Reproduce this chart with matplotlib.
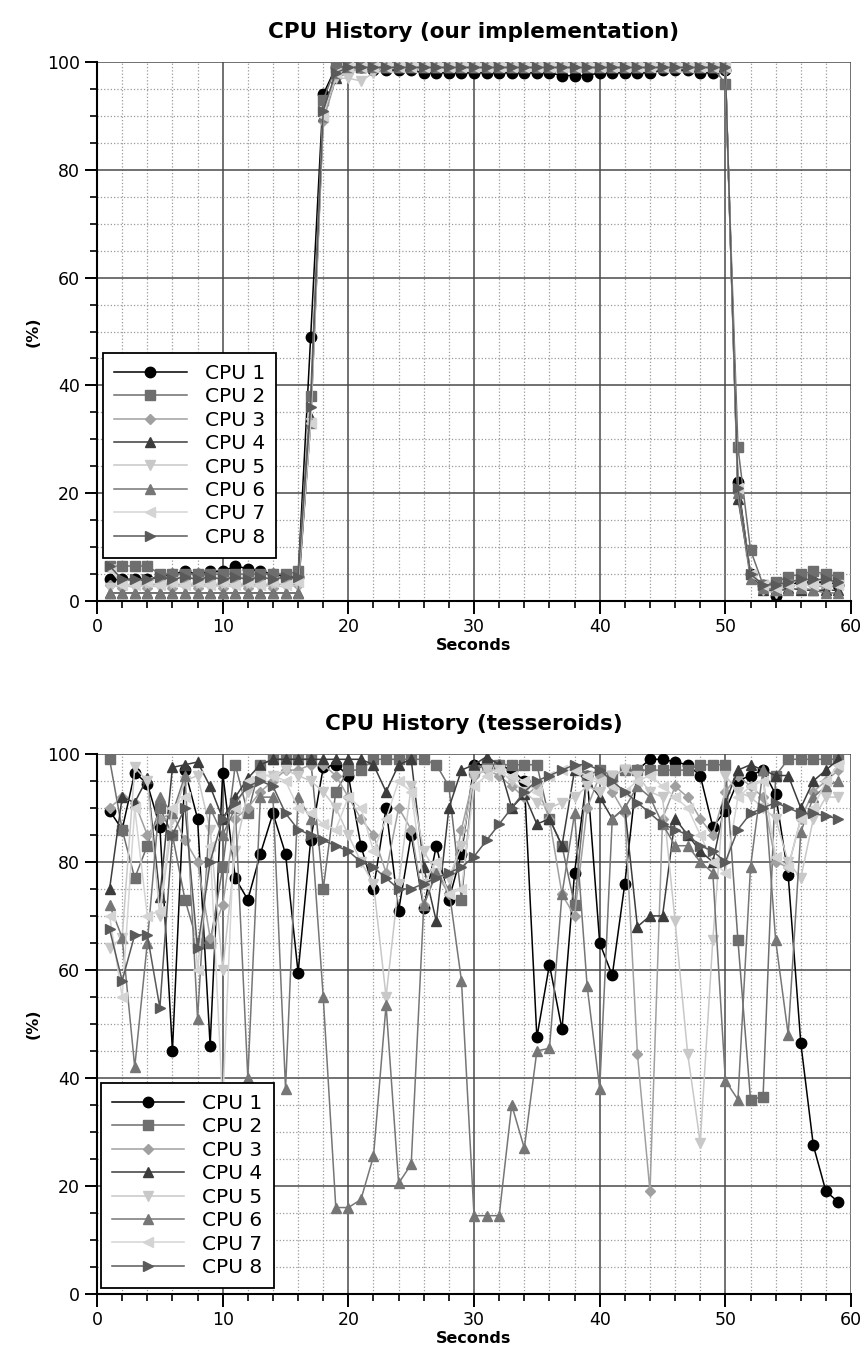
import matplotlib
matplotlib.use("Agg")
import matplotlib.pyplot as plt
from matplotlib.ticker import MultipleLocator

seconds = list(range(1, 60))
labels = ["CPU 1", "CPU 2", "CPU 3", "CPU 4", "CPU 5", "CPU 6", "CPU 7", "CPU 8"]
titles = ["CPU History (our implementation)", "CPU History (tesseroids)"]

# ---- top chart: our implementation ----
ours_cpu1 = [4, 4, 4, 4, 4.5, 5, 5.5, 5, 5.5, 5.5,
             6.5, 6, 5.5, 5, 4.5, 4.5, 49, 94, 99, 99,
             99, 98.5, 98.5, 98.5, 98.5, 98, 98, 98, 98, 98,
             98, 98, 98, 98, 98, 98, 97.5, 97.5, 97.5, 98,
             98, 98, 98, 98, 98.5, 98.5, 98.5, 98, 98, 98.5,
             22, 5, 3, 1, 3, 3.5, 3.5, 3.5, 3]
ours_cpu2 = [6.5, 6.5, 6.5, 6.5, 5, 5, 5, 5, 5, 5,
             5, 5, 5, 5, 5, 5.5, 38, 93, 99, 99,
             99, 99, 99, 99, 99, 99, 99, 99, 99, 99,
             99, 99, 99, 99, 99, 99, 99, 99, 99, 99,
             99, 99, 99, 99, 99, 99, 99, 99, 99, 96,
             28.5, 9.5, 3, 3.5, 4.5, 5, 5.5, 5, 4.5]
ours_cpu3 = [3, 2.5, 3.5, 2.5, 3.5, 2.5, 3.5, 2.5, 3.5, 2.5,
             3.5, 2.5, 3.5, 2.5, 3.5, 3, 33, 89, 97, 98,
             99, 99, 99, 99, 99, 99, 99, 99, 99, 99,
             99, 99, 99, 99, 99, 99, 99, 99, 99, 99,
             99, 99, 99, 99, 99, 99, 99, 99, 99, 98.5,
             20, 5, 2, 2.5, 3, 3, 3, 2.5, 3]
ours_cpu4 = [1.5, 1.5, 1.5, 1.5, 1.5, 1.5, 1.5, 1.5, 1.5, 1.5,
             1.5, 1.5, 1.5, 1.5, 1.5, 1.5, 34, 90, 97, 99,
             99, 99, 99, 99, 99, 99, 99, 99, 99, 99,
             99, 99, 99, 99, 99, 99, 99, 99, 99, 99,
             99, 99, 99, 99, 99, 99, 99, 99, 99, 99,
             19, 5, 2, 2, 2.5, 2, 2, 2, 2]
ours_cpu5 = [2.5, 3, 2.5, 3, 2.5, 3, 2.5, 3, 2.5, 3,
             2.5, 3, 2.5, 3, 2.5, 3, 33, 90, 97, 97,
             96.5, 98, 99, 99, 99, 99, 99, 99, 99, 99,
             99, 99, 99, 99, 99, 99, 99, 99, 99, 99,
             99, 99, 99, 99, 99, 99, 99, 99, 99, 99,
             20, 4.5, 2, 1.5, 3, 3, 3, 3, 3]
ours_cpu6 = [1.5, 1.5, 1.5, 1.5, 1.5, 1.5, 1.5, 1.5, 1.5, 1.5,
             1.5, 1.5, 1.5, 1.5, 1.5, 1.5, 33, 90, 98, 99,
             99, 99, 99, 99, 99, 99, 99, 99, 99, 99,
             99, 99, 99, 99, 99, 99, 99, 99, 99, 99,
             99, 99, 99, 99, 99, 99, 99, 99, 99, 99,
             20, 4, 2.5, 2, 2, 2.5, 2, 1.5, 1.5]
ours_cpu7 = [6, 3, 3, 3.5, 3, 3.5, 3, 3.5, 3, 3.5,
             3, 3.5, 3, 3.5, 3, 3.5, 33, 90, 98, 99,
             99, 99, 99, 99, 99, 99, 99, 99, 99, 99,
             99, 99, 99, 99, 99, 99, 99, 99, 99, 99,
             99, 99, 99, 99, 99, 99, 99, 99, 99, 99,
             21, 5, 3, 2.5, 3, 3, 3, 3, 3]
ours_cpu8 = [6.5, 4, 4, 4, 4.5, 4, 4.5, 4, 4.5, 4,
             4.5, 4, 4.5, 4, 4.5, 4.5, 36, 91, 98, 99,
             99, 99, 99, 99, 99, 99, 99, 99, 99, 99,
             99, 99, 99, 99, 99, 99, 99, 99, 99, 99,
             99, 99, 99, 99, 99, 99, 99, 99, 99, 99,
             21, 5, 3, 3, 3.5, 4, 4, 4, 3.5]

# ---- bottom chart: tesseroids ----
tess_cpu1 = [89.5, 86, 96.5, 94.5, 86.5, 45, 97, 88, 46, 96.5,
             77, 73, 81.5, 89, 81.5, 59.5, 84, 97.5, 98, 96,
             83, 75, 90, 71, 85, 71.5, 83, 73, 81.5, 98,
             98, 98, 97, 95, 47.5, 61, 49, 78, 96, 65,
             59, 76, 97, 99, 99, 98.5, 98, 96, 86.5, 89.5,
             95, 96, 97, 92.5, 77.5, 46.5, 27.5, 19, 17]
tess_cpu2 = [99, 86, 77, 83, 90, 85, 73, 65, 65, 79,
             98, 89, 98, 99, 99, 99, 99, 75, 93, 97,
             97, 99, 99, 99, 99, 99, 98, 94, 73, 97,
             98, 98, 98, 98, 98, 88, 83, 72, 96, 97,
             96, 97, 97, 97, 97, 97, 97, 98, 98, 98,
             65.5, 36, 36.5, 96, 99, 99, 99, 99, 99]
tess_cpu3 = [90, 92, 91, 85, 88, 89, 84, 80, 66, 72,
             88, 90, 93, 95, 97, 97, 98, 98, 96, 92,
             88, 85, 78, 90, 86, 72, 78, 74, 86, 96,
             97, 96, 94, 92, 94, 88, 74, 70, 90, 96,
             93, 89, 44.5, 19, 88, 94, 92, 88, 85, 93,
             96, 94, 92, 80, 79, 88, 93, 95, 97]
tess_cpu4 = [75, 92, 91, 95.5, 73.5, 97.5, 98, 98.5, 94, 88,
             92, 95.5, 98, 99, 99, 99, 99, 99, 99, 99,
             99, 98, 93, 98, 99, 79, 69, 90, 97, 98,
             99.5, 98, 90, 92.5, 87, 88, 83, 97, 95, 92,
             88, 90, 68, 70, 70, 88, 85, 82, 80, 91,
             97, 98, 97, 96, 96, 90, 95, 97, 99]
tess_cpu5 = [64, 66, 97.5, 95, 70, 88, 95, 96, 86, 60,
             82, 93, 96, 96, 97, 96, 95, 93, 90, 85,
             80, 76, 55, 76, 94, 82, 78, 77, 83, 96,
             97, 97, 95, 93, 91, 90, 91, 92, 94, 93,
             96, 97, 96, 93, 92, 69, 44.5, 28, 65.5, 96,
             93, 92, 90, 88, 80, 77, 88, 92, 92]
tess_cpu6 = [72, 66, 42, 65, 92, 89, 96, 51, 90, 85,
             90, 40, 92, 92, 38, 92, 88, 55, 16, 16,
             17.5, 25.5, 53.5, 20.5, 24, 72, 78, 75, 58, 14.5,
             14.5, 14.5, 35, 27, 45, 45.5, 74, 89, 57, 38,
             88, 90, 94, 92, 87, 83, 83, 80, 78, 39.5,
             36, 79, 97, 65.5, 48, 85.5, 92, 94, 95]
tess_cpu7 = [70, 55, 90, 70, 71, 90, 92, 60, 83, 35,
             90, 95, 96, 96, 95, 90, 89, 87, 86, 92,
             90, 82, 88, 95, 93, 76, 80, 74, 75, 94,
             96, 97, 96, 95, 93, 96, 97, 97, 96, 95,
             94, 93, 95, 96, 94, 92, 90, 85, 80, 78,
             92, 94, 95, 81, 79, 88, 90, 95, 98]
tess_cpu8 = [67.5, 58, 66.5, 66.5, 53, 85, 90, 64, 80, 88,
             91, 94, 95, 94, 89, 86, 85, 84, 83, 82,
             80, 79, 77, 75, 75, 76, 77, 78, 79, 81,
             84, 87, 90, 93, 95, 96, 97, 98, 98, 97,
             95, 93, 91, 89, 87, 86, 85, 83, 82, 80,
             86, 89, 90, 91, 90, 89, 89, 88.5, 88]

ours = [ours_cpu1, ours_cpu2, ours_cpu3, ours_cpu4, ours_cpu5, ours_cpu6, ours_cpu7, ours_cpu8]
tess = [tess_cpu1, tess_cpu2, tess_cpu3, tess_cpu4, tess_cpu5, tess_cpu6, tess_cpu7, tess_cpu8]

colors = ["#000000", "#6e6e6e", "#a0a0a0", "#3c3c3c", "#c8c8c8", "#767676", "#d4d4d4", "#5a5a5a"]
markers = ["o", "s", "D", "^", "v", "^", "<", ">"]
msizes = [7.5, 7, 5, 7, 7, 7, 7, 7]

plt.rcParams["font.family"] = ["DejaVu Sans"]

fig = plt.figure(figsize=(8.64, 13.70), dpi=100)
ax_top = fig.add_axes([0.1123, 0.5613, 0.8727, 0.3934])
ax_bot = fig.add_axes([0.1123, 0.0555, 0.8727, 0.3942])

legend_anchor = [(0.008, 0.08), (0.005, 0.011)]

for ax, data, title, anch in zip([ax_top, ax_bot], [ours, tess], titles, legend_anchor):
    for vals, c, m, ms, lab in zip(data, colors, markers, msizes, labels):
        ax.plot(seconds, vals, color=c, marker=m, markersize=ms, linewidth=1.1,
                markeredgecolor=c, label=lab)
    ax.set_xlim(0, 60)
    ax.set_ylim(0, 100)
    ax.xaxis.set_major_locator(MultipleLocator(10))
    ax.xaxis.set_minor_locator(MultipleLocator(2))
    ax.yaxis.set_major_locator(MultipleLocator(20))
    ax.yaxis.set_minor_locator(MultipleLocator(5))
    ax.grid(which="major", color="#4a4a4a", linestyle="-", linewidth=1.1, zorder=0)
    ax.grid(which="minor", color="#9a9a9a", linestyle=":", linewidth=0.9, zorder=0)
    ax.set_axisbelow(True)
    for s in ["top", "right"]:
        ax.spines[s].set_visible(False)
    for s in ["left", "bottom"]:
        ax.spines[s].set_linewidth(1.5)
    ax.tick_params(which="major", direction="out", length=9, width=1.4, labelsize=12.5)
    ax.tick_params(which="minor", direction="out", length=5, width=1.2)
    ax.set_title(title, fontsize=15.5, fontweight="bold", pad=17)
    ax.set_xlabel("Seconds", fontsize=11.5, fontweight="bold", labelpad=1)
    ax.set_ylabel("(%)", fontsize=11.5, fontweight="bold")
    leg = ax.legend(loc="lower left", bbox_to_anchor=anch, numpoints=1, fontsize=14.5,
                    fancybox=False, framealpha=1, edgecolor="black", handlelength=3.6,
                    borderpad=0.55, labelspacing=0.22, handletextpad=0.9, borderaxespad=0)
    leg.get_frame().set_linewidth(1.3)

fig.savefig("out.png", dpi=100)
